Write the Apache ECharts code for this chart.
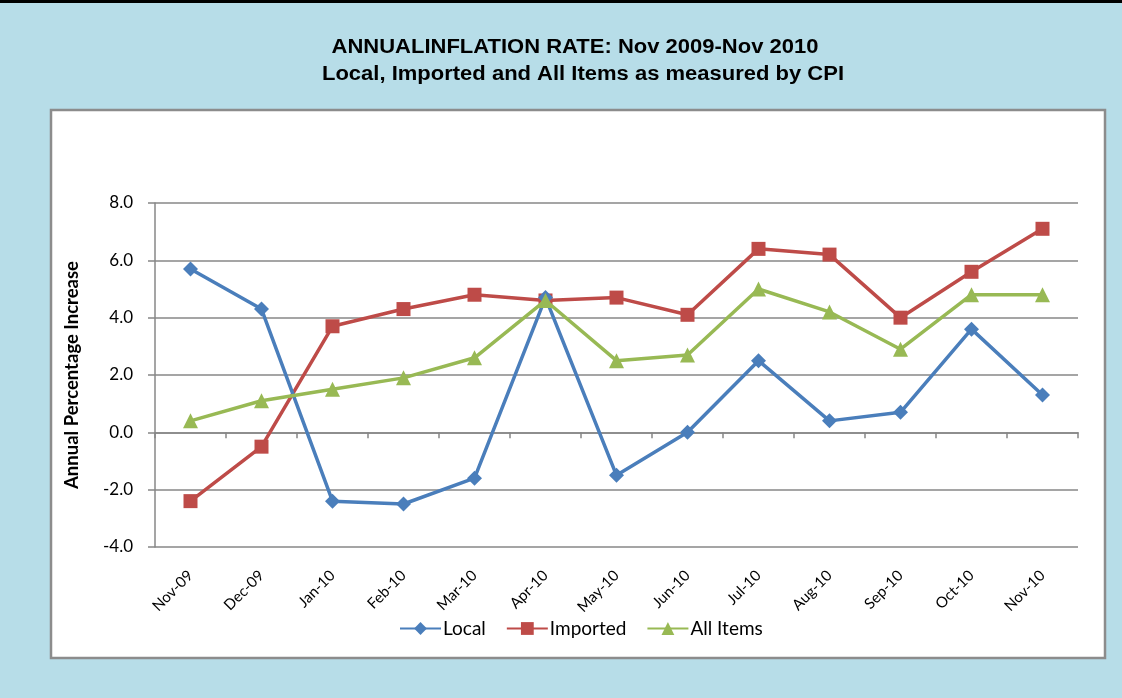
<!DOCTYPE html>
<html>
<head>
<meta charset="utf-8">
<script src="https://cdn.jsdelivr.net/npm/echarts@6/dist/echarts.min.js"></script>
<style>
html,body{margin:0;padding:0;background:#b7dde8;}
#chart{width:1122px;height:698px;}
</style>
</head>
<body>
<div id="chart"></div>
<script>
const categories = ['Nov-09','Dec-09','Jan-10','Feb-10','Mar-10','Apr-10','May-10','Jun-10','Jul-10','Aug-10','Sep-10','Oct-10','Nov-10'];
const localValues = [5.7, 4.3, -2.4, -2.5, -1.6, 4.7, -1.5, 0.0, 2.5, 0.4, 0.7, 3.6, 1.3];
const importedValues = [-2.4, -0.5, 3.7, 4.3, 4.8, 4.6, 4.7, 4.1, 6.4, 6.2, 4.0, 5.6, 7.1];
const allItemsValues = [0.4, 1.1, 1.5, 1.9, 2.6, 4.6, 2.5, 2.7, 5.0, 4.2, 2.9, 4.8, 4.8];
const yTicks = { min: -4, max: 8, interval: 2 };
const titleLines = ['ANNUALINFLATION RATE: Nov 2009-Nov 2010', 'Local, Imported and All Items as measured by CPI'];

const chart = echarts.init(document.getElementById('chart'));
const font = 'Lato, "Open Sans", sans-serif';
const gridColor = '#878787';
const titleFont = 'bold 20px "Liberation Sans", Arial, sans-serif';

chart.setOption({
  backgroundColor: '#b7dde8',
  animation: false,
  graphic: [
    { type: 'rect', shape: { x: 0, y: 0, width: 1122, height: 3 }, style: { fill: '#000' }, z: -10 },
    { type: 'rect', shape: { x: 51, y: 110, width: 1054, height: 548 }, style: { fill: '#fff', stroke: '#8c8c8c', lineWidth: 2.5 }, z: -10 },
    { type: 'text', x: 575, y: 47, scaleX: 1.1, style: { text: titleLines[0], font: titleFont, fill: '#000', textAlign: 'center', textVerticalAlign: 'middle' } },
    { type: 'text', x: 583, y: 74, scaleX: 1.1, style: { text: titleLines[1], font: titleFont, fill: '#000', textAlign: 'center', textVerticalAlign: 'middle' } }
  ],
  legend: {
    data: ['Local', 'Imported', 'All Items'],
    left: 394, top: 614,
    itemWidth: 41, itemHeight: 16, itemGap: 20,
    textStyle: { fontFamily: font, fontSize: 19, color: '#000', padding: [0, 0, 0, -3] }
  },
  grid: { left: 155, top: 203, right: 44, bottom: 151, containLabel: false },
  xAxis: [
    {
      type: 'category', data: categories, boundaryGap: true, position: 'bottom',
      axisLine: { show: true, onZero: true, lineStyle: { color: gridColor, width: 1.5 } },
      axisTick: { show: true, alignWithLabel: false, length: 6, inside: false, lineStyle: { color: gridColor, width: 1.5 } },
      axisLabel: { show: false },
      splitLine: { show: false }
    },
    {
      type: 'category', data: categories, boundaryGap: true, position: 'bottom',
      axisLine: { show: false, onZero: false },
      axisTick: { show: false },
      axisLabel: { show: true, rotate: 45, interval: 0, margin: 26, fontFamily: font, fontSize: 15, color: '#000' },
      splitLine: { show: false }
    }
  ],
  yAxis: {
    type: 'value', min: yTicks.min, max: yTicks.max, interval: yTicks.interval,
    name: 'Annual Percentage Increase', nameLocation: 'middle', nameGap: 73, nameRotate: 90,
    nameTextStyle: { fontFamily: font, fontWeight: 'bold', fontSize: 18.5, color: '#000' },
    axisLine: { show: true, lineStyle: { color: gridColor, width: 1.5 } },
    axisTick: { show: true, length: 7, lineStyle: { color: gridColor, width: 1.5 } },
    axisLabel: { fontFamily: font, fontSize: 17, color: '#000', margin: 22, formatter: v => v.toFixed(1) },
    splitLine: { show: true, lineStyle: { color: gridColor, width: 1.5 } }
  },
  series: [
    { name: 'Local', type: 'line', data: localValues, xAxisIndex: 0, symbol: 'diamond', symbolSize: 15,
      itemStyle: { color: '#4a7ebb' }, lineStyle: { width: 3.5, color: '#4a7ebb' }, z: 3 },
    { name: 'Imported', type: 'line', data: importedValues, xAxisIndex: 0, symbol: 'rect', symbolSize: 14,
      itemStyle: { color: '#be4b48' }, lineStyle: { width: 3.5, color: '#be4b48' }, z: 2 },
    { name: 'All Items', type: 'line', data: allItemsValues, xAxisIndex: 0, symbol: 'triangle', symbolSize: 15,
      itemStyle: { color: '#98b954' }, lineStyle: { width: 3.5, color: '#98b954' }, z: 4 }
  ]
});
</script>
</body>
</html>
